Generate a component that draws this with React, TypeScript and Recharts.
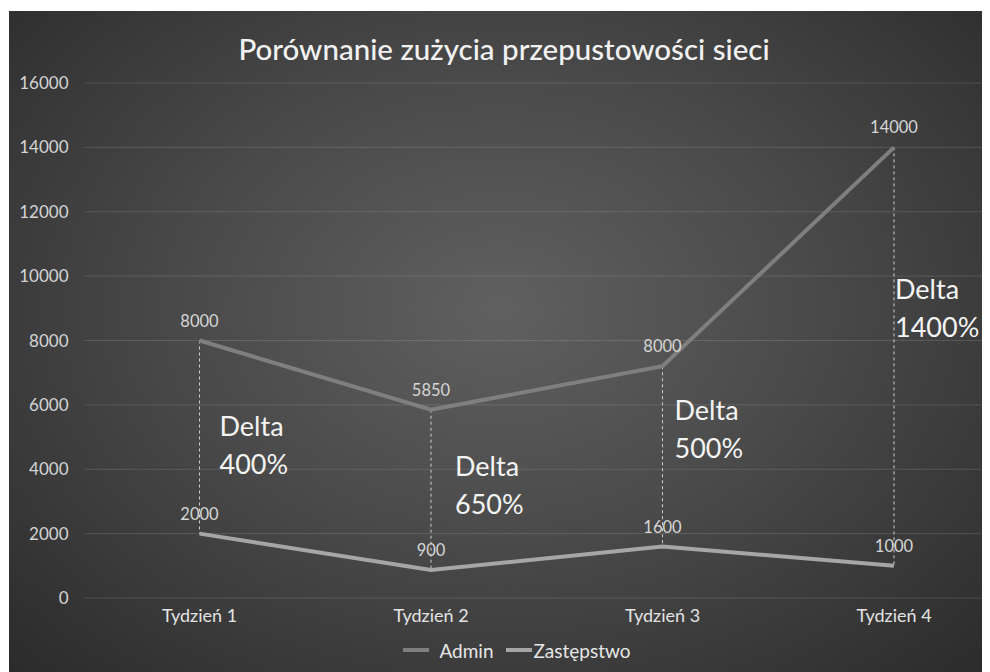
import {
  LineChart,
  Line,
  XAxis,
  YAxis,
  CartesianGrid,
  Legend,
  LabelList,
  ReferenceLine,
  ReferenceDot,
} from "recharts";

const weeks = ["Tydzień 1", "Tydzień 2", "Tydzień 3", "Tydzień 4"];
const admin = [8000, 5850, 7200, 14000];
const zastepstwo = [2000, 870, 1600, 1000];
// labels as printed on the chart (not always equal to the plotted value)
const adminLabels = ["8000", "5850", "8000", "14000"];
const zastLabels = ["2000", "900", "1600", "1000"];
const yTicks = [0, 2000, 4000, 6000, 8000, 10000, 12000, 14000, 16000];

const deltaWeeks = ["Tydzień 1", "Tydzień 2", "Tydzień 3", "Tydzień 4"];
const deltaY = [4780, 3540, 5280, 9040];
const deltaText = ["400%", "650%", "500%", "1400%"];

const data = weeks.map((w, i) => ({
  week: w,
  Admin: admin[i],
  "Zastępstwo": zastepstwo[i],
}));

const FONT = "Lato, 'Open Sans', sans-serif";
const deltaShift = [20, 24, 12, 1];

const LegendBox = () => (
  <div
    style={{
      display: "flex",
      justifyContent: "center",
      alignItems: "center",
      gap: 10,
      height: 44,
      paddingLeft: 16,
      paddingBottom: 12,
      fontFamily: FONT,
      fontSize: 19,
      color: "#e6e6e6",
    }}
  >
    <span style={{ display: "inline-block", width: 26, height: 4, background: "#7f7f7f" }} />
    <span>Admin</span>
    <span style={{ display: "inline-block", width: 26, height: 4, background: "#a6a6a6", marginLeft: 2 }} />
    <span style={{ marginLeft: -8 }}>Zastępstwo</span>
  </div>
);

export default function App() {
  return (
    <div
      style={{
        position: "relative",
        width: 981,
        height: 661,
        marginTop: 3,
        marginLeft: 1,
        overflow: "hidden",
        background:
          "radial-gradient(ellipse at 50% 45%, #606060 0%, #4a4a4a 45%, #2b2b2b 100%)",
        fontFamily: FONT,
      }}
    >
      <div
        style={{
          position: "absolute",
          top: 20,
          left: 0,
          width: 990,
          textAlign: "center",
          color: "#f2f2f2",
          fontSize: 29.5,
          fontWeight: 500,
        }}
      >
        Porównanie zużycia przepustowości sieci
      </div>
      <LineChart
        width={1000}
        height={661}
        data={data}
        margin={{ top: 72, right: 0, left: 0, bottom: 0 }}
      >
        <CartesianGrid vertical={false} stroke="rgba(255,255,255,0.13)" />
        <XAxis
          dataKey="week"
          axisLine={false}
          tickLine={false}
          height={30}
          padding={{ left: 115, right: 115 }}
          tick={{ fill: "#e3e3e3", fontSize: 18, fontFamily: FONT }}
          tickMargin={5}
        />
        <YAxis
          width={75.5}
          domain={[0, 16000]}
          ticks={yTicks}
          axisLine={false}
          tickLine={false}
          tick={{ fill: "#d4d4d4", fontSize: 17, fontFamily: FONT }}
          tickMargin={10}
        />
        <Legend verticalAlign="bottom" height={44} content={() => <LegendBox />} />
        {weeks.map((w, i) => (
          <ReferenceLine
            key={w}
            segment={[
              { x: w, y: admin[i] },
              { x: w, y: zastepstwo[i] },
            ]}
            stroke="#cfcfcf"
            strokeDasharray="3 3"
            strokeWidth={1}
          />
        ))}
        <Line
          type="linear"
          dataKey="Admin"
          stroke="#7f7f7f"
          strokeWidth={4}
          dot={false}
          isAnimationActive={false}
        >
          <LabelList
            dataKey="Admin"
            position="top"
            offset={14}
            fill="#d6d6d6"
            fontSize={16.5}
            fontFamily={FONT}
            formatter={(v: any) => adminLabels[admin.indexOf(v)]}
          />
        </Line>
        <Line
          type="linear"
          dataKey="Zastępstwo"
          stroke="#a6a6a6"
          strokeWidth={4}
          dot={false}
          isAnimationActive={false}
        >
          <LabelList
            dataKey="Zastępstwo"
            position="top"
            offset={14}
            fill="#d6d6d6"
            fontSize={16.5}
            fontFamily={FONT}
            formatter={(v: any) => zastLabels[zastepstwo.indexOf(v)]}
          />
        </Line>
        {deltaWeeks.map((w, i) => (
          <ReferenceDot
            key={"d" + w}
            x={w}
            y={deltaY[i]}
            r={0}
            fill="none"
            stroke="none"
            label={(p: any) => {
              const vb = p.viewBox || {};
              const x = (vb.x ?? 0) + (vb.width ?? 0) / 2 + deltaShift[i];
              const y = (vb.y ?? 0) + (vb.height ?? 0) / 2;
              return (
                <text x={x} y={y} fill="#f4f4f4" fontSize={27} fontFamily={FONT}>
                  <tspan x={x} dy={-8}>Delta</tspan>
                  <tspan x={x} dy={38}>{deltaText[i]}</tspan>
                </text>
              );
            }}
          />
        ))}
      </LineChart>
    </div>
  );
}
